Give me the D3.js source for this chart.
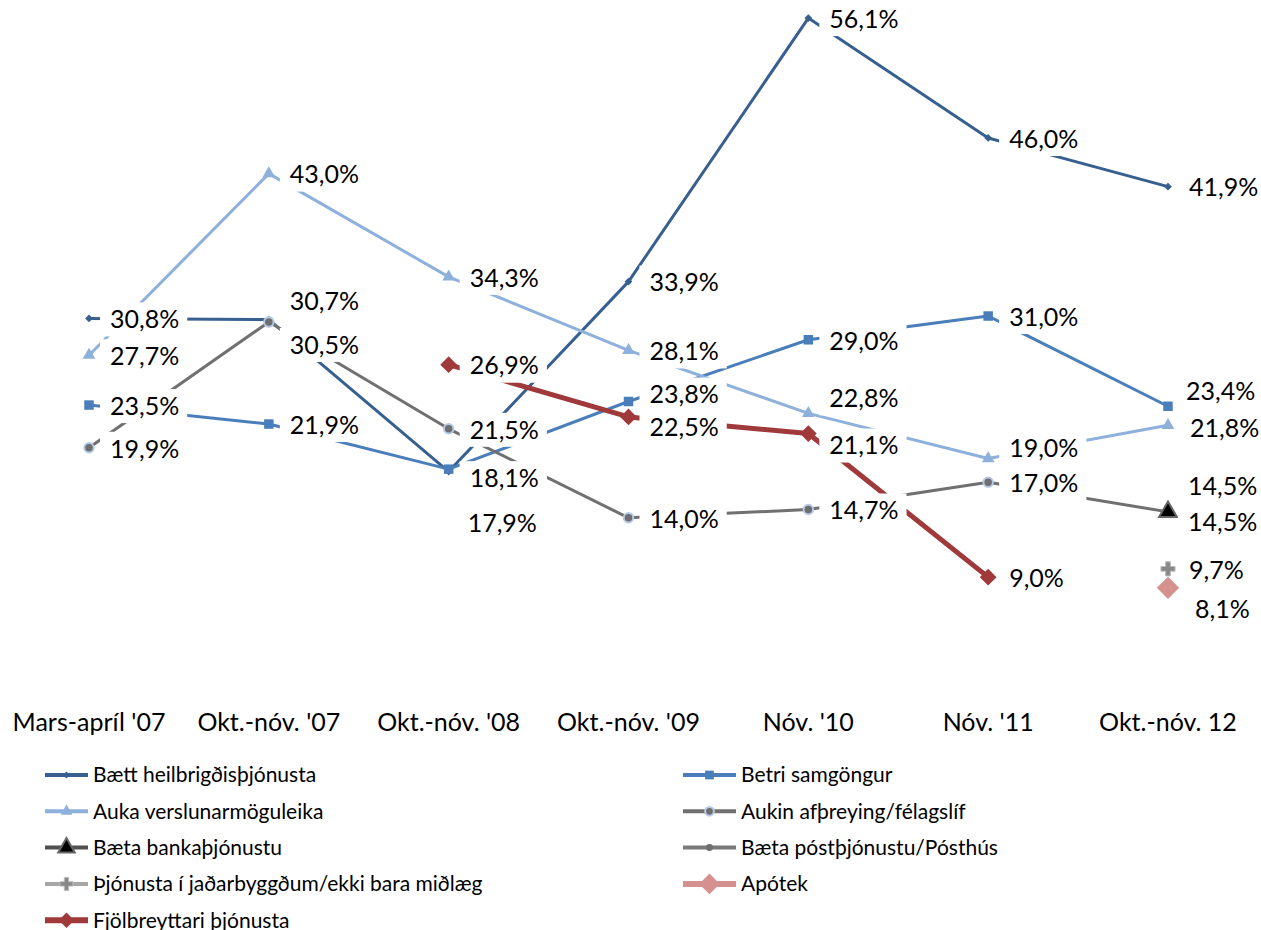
<!DOCTYPE html>
<html>
<head>
<meta charset="utf-8">
<script src="https://cdn.jsdelivr.net/npm/d3@7"></script>
<style>
  body { margin: 0; background: #fff; }
  svg text { font-family: Lato, "Open Sans", sans-serif; fill: #000; }
</style>
</head>
<body>
<div id="chart"></div>
<script>
// tímabil
const categories = ["Mars-apríl '07", "Okt.-nóv. '07", "Okt.-nóv. '08", "Okt.-nóv. '09", "Nóv. '10", "Nóv. '11", "Okt.-nóv. 12"];

// gildi í %
const heilbrigdis = [30.8, 30.7, 17.9, 33.9, 56.1, 46.0, 41.9];
const samgongur   = [23.5, 21.9, 18.1, 23.8, 29.0, 31.0, 23.4];
const verslun     = [27.7, 43.0, 34.3, 28.1, 22.8, 19.0, 21.8];
const afthreying  = [19.9, 30.5, 21.5, 14.0, 14.7, 17.0, 14.5];
const banka       = [null, null, null, null, null, null, 14.5];
const postur      = [null, null, null, null, null, null, null];
const jadar       = [null, null, null, null, null, null, 9.7];
const apotek      = [null, null, null, null, null, null, 8.1];
const fjolbreytt  = [null, null, 26.9, 22.5, 21.1, 9.0, null];

const seriesNames = [
  "Bætt heilbrigðisþjónusta", "Betri samgöngur",
  "Auka verslunarmöguleika", "Aukin afþreying/félagslíf",
  "Bæta bankaþjónustu", "Bæta póstþjónustu/Pósthús",
  "Þjónusta í jaðarbyggðum/ekki bara miðlæg", "Apótek",
  "Fjölbreyttari þjónusta"
];
const seriesValues = [heilbrigdis, samgongur, verslun, afthreying, banka, postur, jadar, apotek, fjolbreytt];

// útlit hverrar raðar
const styles = [
  { color: "#375F8F", width: 3, marker: "diamond", size: 30, fill: "#375F8F", stroke: "none" },
  { color: "#4A7EBB", width: 3, marker: "square", size: 90, fill: "#4A7EBB", stroke: "none" },
  { color: "#8EB0DC", width: 3, marker: "triangle", size: 70, fill: "#8EB0DC", stroke: "none" },
  { color: "#707070", width: 3, marker: "circle", size: 70, fill: "#6E6E6E", stroke: "#B4C9E6" },
  { color: "#505050", width: 3, marker: "triangle", size: 140, fill: "#000", stroke: "#666" },
  { color: "#7A7A7A", width: 3, marker: "circle", size: 45, fill: "#6E6E6E", stroke: "none" },
  { color: "#A6A6A6", width: 3, marker: "plus", size: 110, fill: "#888", stroke: "#aaa" },
  { color: "#D59190", width: 5, marker: "diamond", size: 250, fill: "#D59190", stroke: "none" },
  { color: "#A0393A", width: 5, marker: "diamond", size: 140, fill: "#A0393A", stroke: "none" }
];

// tilfærsla merkimiða [röð, punktur, dx, dy]
const labelNudge = [
  [0, 1, 21, -18], [0, 2, 19, 52],
  [1, 2, 21, 9], [1, 3, 21, -7], [1, 6, 18, -15],
  [2, 4, 21, -15], [2, 5, 21, -10], [2, 6, 22, 3],
  [3, 1, 21, 23], [3, 6, 20, -26],
  [4, 6, 20, 10],
  [7, 6, 27, 21],
  [8, 3, 21, 10], [8, 4, 21, 12]
];

const W = 1261, H = 930;
const svg = d3.select("#chart").append("svg").attr("width", W).attr("height", H);

const x = d3.scalePoint().domain(categories).range([89, 1168]);
const y = d3.scaleLinear().domain([0, 60]).range([684, 684 - 60 * 11.87]);

function drawMarker(g, st, cx, cy, scale) {
  const s = scale || 1;
  let path, rot = 0;
  if (st.marker === "diamond") { path = d3.symbol(d3.symbolSquare, st.size * s)(); rot = 45; }
  else if (st.marker === "square") path = d3.symbol(d3.symbolSquare, st.size * s)();
  else if (st.marker === "triangle") path = d3.symbol(d3.symbolTriangle, st.size * s)();
  else if (st.marker === "circle") path = d3.symbol(d3.symbolCircle, st.size * s)();
  else path = d3.symbol(d3.symbolCross, st.size * s)();
  g.append("path")
    .attr("d", path)
    .attr("transform", `translate(${cx},${cy}) rotate(${rot})`)
    .attr("fill", st.fill)
    .attr("stroke", st.marker === "plus" ? "#bbb" : st.stroke)
    .attr("stroke-width", st.stroke === "none" ? 0 : (st.marker === "plus" ? 1 : 2));
}

// x-ás merkingar
svg.append("g").selectAll("text").data(categories).join("text")
  .attr("x", d => x(d)).attr("y", 722)
  .attr("dy", "0.35em")
  .attr("text-anchor", "middle")
  .style("font-size", "25px")
  .text(d => d);

// línur
const lineGen = d3.line()
  .defined(d => d.v != null)
  .x(d => x(d.c)).y(d => y(d.v));

const plot = svg.append("g");
seriesValues.forEach((vals, i) => {
  const pts = vals.map((v, j) => ({ c: categories[j], v }));
  plot.append("path").datum(pts)
    .attr("fill", "none")
    .attr("stroke", styles[i].color)
    .attr("stroke-width", styles[i].width)
    .attr("stroke-linejoin", "round")
    .attr("d", lineGen);
});
seriesValues.forEach((vals, i) => {
  vals.forEach((v, j) => {
    if (v == null) return;
    drawMarker(plot, styles[i], x(categories[j]), y(v));
  });
});

// merkimiðar
const fmt = v => d3.format(".1f")(v).replace(".", ",") + "%";
const lbl = svg.append("g");
seriesValues.forEach((vals, i) => {
  vals.forEach((v, j) => {
    if (v == null) return;
    const n = labelNudge.find(a => a[0] === i && a[1] === j);
    const dx = n ? n[2] : 21, dy = n ? n[3] : 1;
    const tx = x(categories[j]) + dx, ty = y(v) + dy;
    const g = lbl.append("g");
    const t = g.append("text")
      .attr("x", tx).attr("y", ty).attr("dy", "0.35em")
      .style("font-size", "25px")
      .text(fmt(v));
    const bb = t.node().getBBox();
    g.insert("rect", "text")
      .attr("x", bb.x - 10).attr("y", ty - 17)
      .attr("width", bb.width + 18).attr("height", 34)
      .attr("fill", "#fff");
  });
});

// skýringar
const legend = svg.append("g");
seriesNames.forEach((name, i) => {
  const col = i % 2, row = Math.floor(i / 2);
  const lx = col === 0 ? 45 : 683;
  const lw = col === 0 ? 43 : 53;
  const ly = 775 + row * 36.3;
  const st = styles[i];
  legend.append("line")
    .attr("x1", lx).attr("x2", lx + lw).attr("y1", ly).attr("y2", ly)
    .attr("stroke", st.color).attr("stroke-width", st.width + 1);
  drawMarker(legend, st, lx + lw / 2, ly, 0.85);
  legend.append("text")
    .attr("x", lx + lw + 5).attr("y", ly).attr("dy", "0.35em")
    .style("font-size", "21px")
    .text(name);
});
</script>
</body>
</html>
